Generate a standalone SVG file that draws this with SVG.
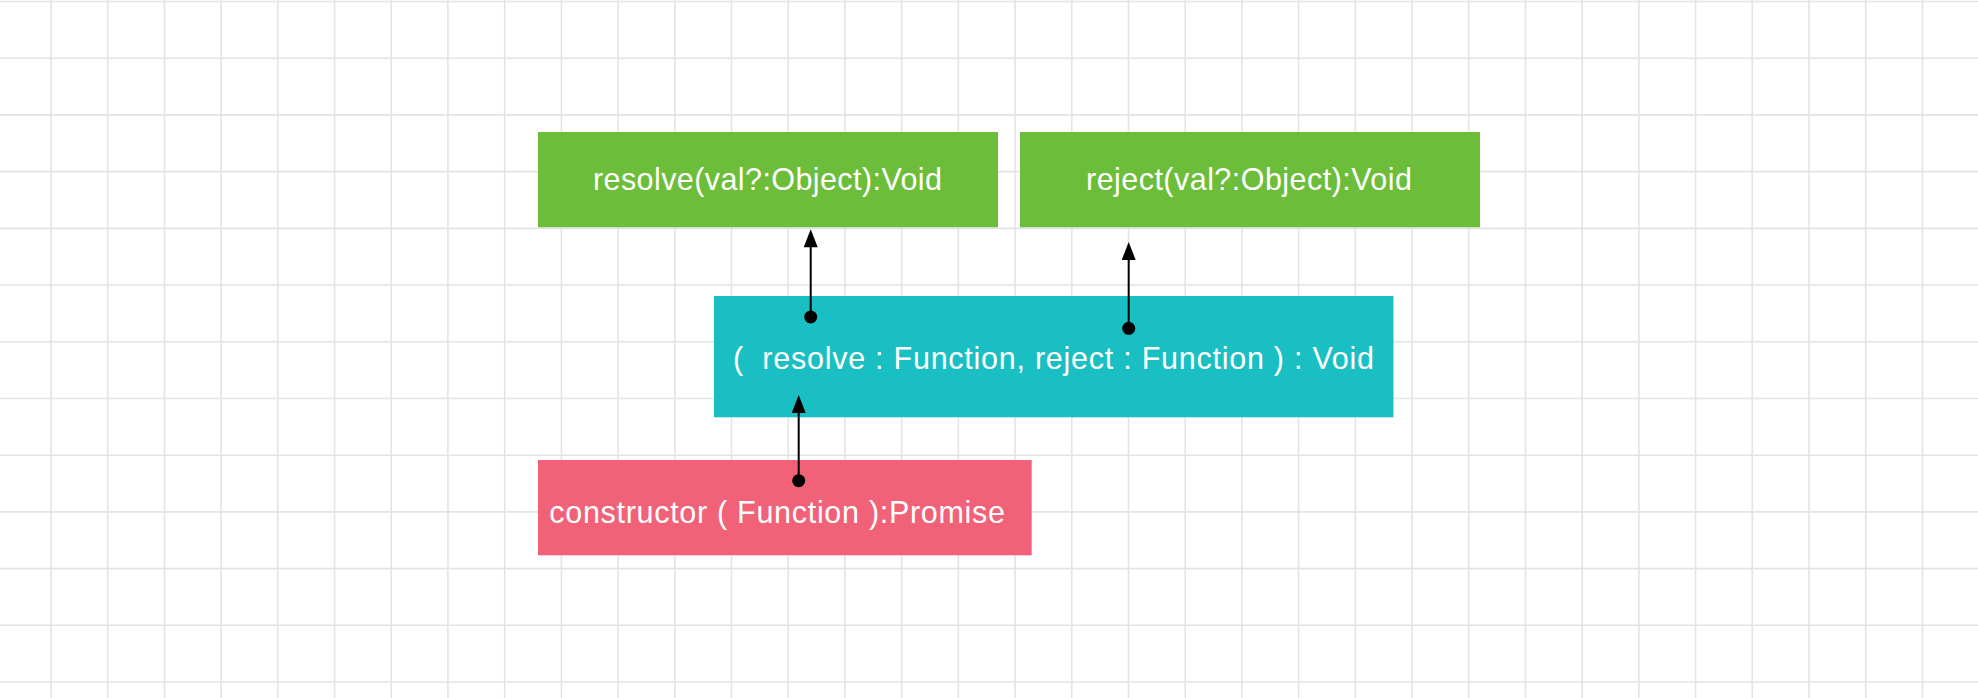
<svg xmlns="http://www.w3.org/2000/svg" width="1978" height="698" viewBox="0 0 1978 698">
<style>
.grid{stroke:#e4e4e4;stroke-width:1.6;fill:none}
.lbl{font-family:"Liberation Sans",Arial,Helvetica,sans-serif;font-size:30.5px;fill:#ffffff}
.green{fill:#6bbd3a}
.cyan{fill:#19bfc2}
.pink{fill:#f16278}
.edge{stroke:#000000;stroke-width:2;fill:none}
.dot{fill:#000000}
.head{fill:#000000}
</style>
<rect x="0" y="0" width="1978" height="698" fill="#ffffff"/>
<path class="grid" d="M51 0V698M107.71 0V698M164.42 0V698M221.13 0V698M277.84 0V698M334.55 0V698M391.26 0V698M447.97 0V698M504.68 0V698M561.39 0V698M618.1 0V698M674.81 0V698M731.52 0V698M788.23 0V698M844.94 0V698M901.65 0V698M958.36 0V698M1015.07 0V698M1071.78 0V698M1128.49 0V698M1185.2 0V698M1241.91 0V698M1298.62 0V698M1355.33 0V698M1412.04 0V698M1468.75 0V698M1525.46 0V698M1582.17 0V698M1638.88 0V698M1695.59 0V698M1752.3 0V698M1809.01 0V698M1865.72 0V698M1922.43 0V698M0 1.5H1978M0 58.21H1978M0 114.92H1978M0 171.63H1978M0 228.34H1978M0 285.05H1978M0 341.76H1978M0 398.47H1978M0 455.18H1978M0 511.89H1978M0 568.6H1978M0 625.31H1978M0 682.02H1978"/>
<g id="node-resolve">
<rect class="green" x="538" y="132" width="460" height="95.3"/>
<text class="lbl" x="767.5" y="190" text-anchor="middle" textLength="349" lengthAdjust="spacing">resolve(val?:Object):Void</text>
</g>
<g id="node-reject">
<rect class="green" x="1020" y="132" width="460" height="95.3"/>
<text class="lbl" x="1249" y="190" text-anchor="middle" textLength="326" lengthAdjust="spacing">reject(val?:Object):Void</text>
</g>
<g id="node-executor">
<rect class="cyan" x="714" y="296" width="679.5" height="121.3"/>
<text class="lbl" x="733" y="368.5" textLength="641" lengthAdjust="spacing" xml:space="preserve">(  resolve : Function, reject : Function ) : Void</text>
</g>
<g id="node-constructor">
<rect class="pink" x="538" y="460" width="493.7" height="95.3"/>
<text class="lbl" x="549.3" y="523" textLength="455.7" lengthAdjust="spacing">constructor ( Function ):Promise</text>
</g>
<g id="connectors">
<g id="edge-executor-resolve">
<line class="edge" x1="810.7" y1="317" x2="810.7" y2="244"/>
<circle class="dot" cx="810.7" cy="317" r="6.5"/>
<polygon class="head" points="810.7,229.3 817.7,247.3 803.7,247.3"/>
</g>
<g id="edge-executor-reject">
<line class="edge" x1="1128.7" y1="328.3" x2="1128.7" y2="256"/>
<circle class="dot" cx="1128.7" cy="328.3" r="6.5"/>
<polygon class="head" points="1128.7,242 1135.7,260 1121.7,260"/>
</g>
<g id="edge-constructor-executor">
<line class="edge" x1="798.7" y1="480.7" x2="798.7" y2="408"/>
<circle class="dot" cx="798.7" cy="480.7" r="6.5"/>
<polygon class="head" points="798.7,395 805.7,413 791.7,413"/>
</g>
</g>
</svg>
